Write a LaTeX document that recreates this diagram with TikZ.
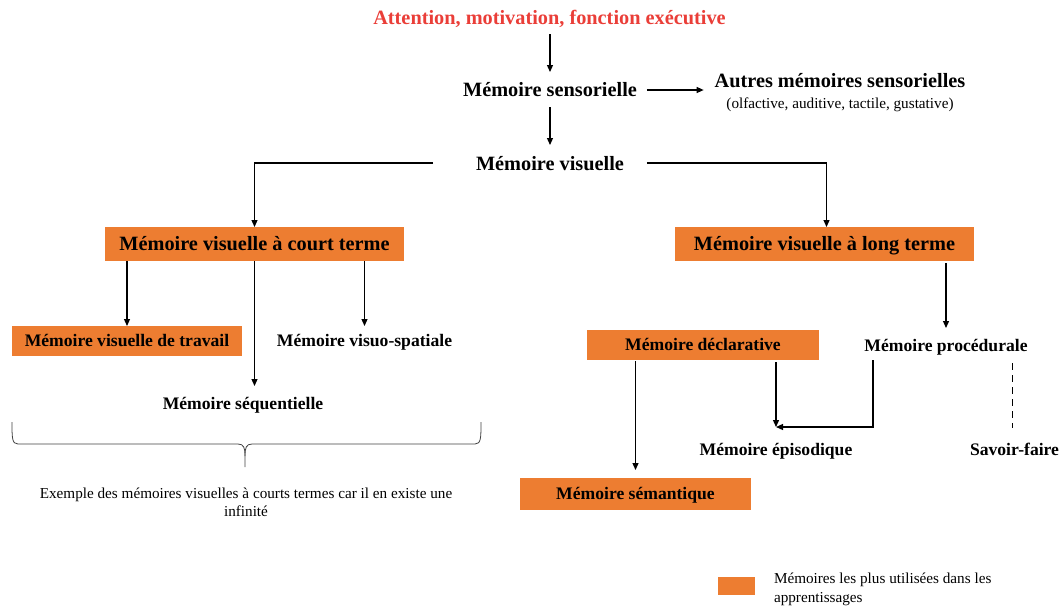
\documentclass[tikz,border=0pt]{standalone}
\usepackage{fontspec}
\setmainfont{Liberation Serif}
\usetikzlibrary{arrows.meta,calc}
\definecolor{orangebox}{RGB}{237,125,49}
\definecolor{titlered}{RGB}{234,62,56}
\begin{document}
\begin{tikzpicture}[x=1pt,y=-1pt,
  txt/.style={inner sep=0pt, outer sep=0pt, text depth=0pt},
  big/.style={txt, text height=13.6pt, font=\fontsize{20.3}{24}\selectfont\bfseries},
  mid/.style={txt, text height=11.8pt, font=\fontsize{17.6}{21}\selectfont\bfseries},
  small/.style={txt, text height=10pt, font=\fontsize{15.2}{19}\selectfont},
  obox/.style={fill=orangebox, inner sep=0pt},
  arr/.style={-{Triangle[length=7pt,width=6pt]}, line width=1.2pt},
  ln/.style={line width=1.2pt},
  bracestyle/.style={line width=0.8pt, black!75},
]
\useasboundingbox (0,0) rectangle (1062,606);

\node[big, text=titlered] (title) at (549.5,18) {Attention, motivation, fonction exécutive};
\node[big] (sens) at (550,90) {Mémoire sensorielle};
\node[big] (autres) at (840,81) {Autres mémoires sensorielles};
\node[small] (autresd) at (840,103) {(olfactive, auditive, tactile, gustative)};
\node[big] (vis) at (550,164) {Mémoire visuelle};

\node[big, obox, minimum width=299, minimum height=34] (court) at (254.5,244) {Mémoire visuelle à court terme};
\node[big, obox, minimum width=299, minimum height=34] (long) at (824.5,244) {Mémoire visuelle à long terme};

\node[mid, obox, minimum width=230, minimum height=30] (trav) at (127,341) {Mémoire visuelle de travail};
\node[mid] (vs) at (364.5,341) {Mémoire visuo-spatiale};
\node[mid] (seq) at (243,404) {Mémoire séquentielle};

\node[mid, obox, minimum width=232, minimum height=30] (decl) at (703,345) {Mémoire déclarative};
\node[mid] (proc) at (946,346) {Mémoire procédurale};
\node[mid] (epi) at (776,450) {Mémoire épisodique};
\node[mid] (sf) at (1014.5,450) {Savoir-faire};
\node[mid, obox, minimum width=231, minimum height=32] (sem) at (635.5,494) {Mémoire sémantique};

\node[small] (ex1) at (246,493) {Exemple des mémoires visuelles à courts termes car il en existe une};
\node[small] (ex2) at (246,511) {infinité};

\node[obox, minimum width=37, minimum height=18] (leg) at (736.5,586) {};
\node[small, anchor=west] (legt1) at (774,578) {Mémoires les plus utilisées dans les};
\node[small, anchor=west] (legt2) at (774,597) {apprentissages};

% connectors
\draw[arr] ($(title.center)+(0.5,16)$) -- ($(title.center |- sens.center)+(0.5,-18)$);
\draw[arr] ($(sens.east)+(10,0)$) -- ($(sens.east -| autres.west)+(-11,0)$);
\draw[arr] ($(sens.center)+(0,17)$) -- ($(sens.center |- vis.center)+(0,-19)$);
\draw[arr] ($(vis.west)+(-43,-1)$) -| (court.north);
\draw[arr] ($(vis.east)+(23,-1)$) -| ($(long.north)+(2,0)$);

\draw[arr] (court.south -| trav.north) -- (trav.north);
\draw[arr] (court.south) -- ($(court.south |- seq.center)+(0,-18)$);
\draw[arr] (court.south -| vs.center) -- ($(vs.center)+(0,-15)$);

\draw[arr] ($(long.south -| proc.center)+(0,2)$) -- ($(proc.center)+(0,-18)$);
\draw[arr] ($(decl.south -| sem.north)+(0,1)$) -- ($(sem.north)+(0,-8)$);
\draw[arr] ($(decl.south -| epi.center)+(0,2)$) -- ($(epi.center)+(0,-23)$);
\draw[arr] ($(proc.center)+(-73,14)$) |- ($(epi.center)+(0,-23)$);
\draw[ln, dash pattern=on 7pt off 5pt] ($(sf.center)+(-2,-87)$) -- ($(sf.center)+(-2,-22)$);

% brace
\draw[bracestyle] (12,422) .. controls (12,438) and (12,444) .. (18,444) -- (238,444)
  .. controls (244,444) and (245,448) .. (245,456) -- (245,467);
\draw[bracestyle] (481,422) .. controls (481,438) and (481,444) .. (475,444) -- (252,444)
  .. controls (246,444) and (245,448) .. (245,456);
\end{tikzpicture}
\end{document}
